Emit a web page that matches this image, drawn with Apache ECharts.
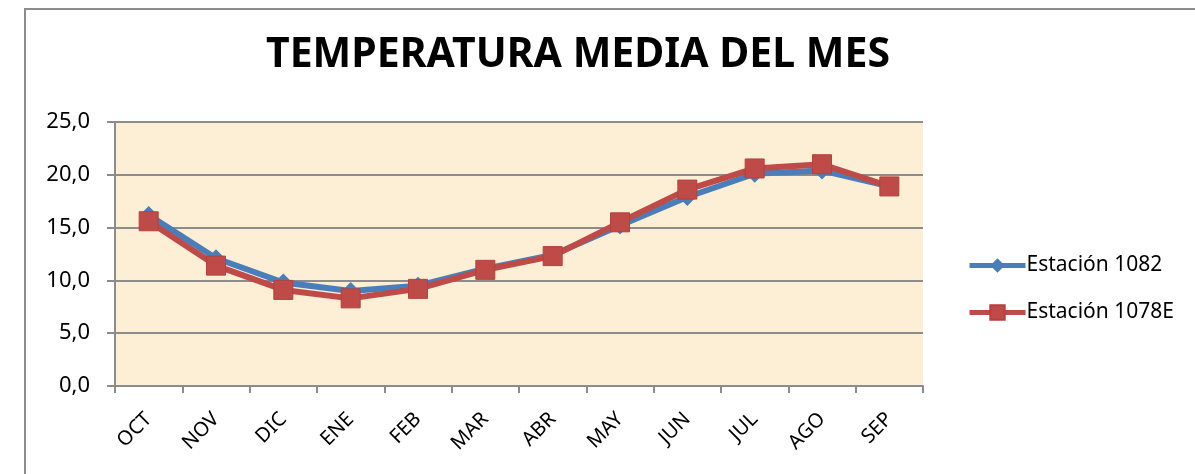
<!DOCTYPE html>
<html>
<head>
<meta charset="utf-8">
<script src="https://cdn.jsdelivr.net/npm/echarts@6/dist/echarts.min.js"></script>
<style>
  html, body { margin: 0; padding: 0; background: #fff; }
  #main { width: 1195px; height: 474px; }
</style>
</head>
<body>
<div id="main"></div>
<script>
var meses = ["OCT", "NOV", "DIC", "ENE", "FEB", "MAR", "ABR", "MAY", "JUN", "JUL", "AGO", "SEP"];
var est1082 = [16.2, 12.1, 9.8, 9.0, 9.5, 11.1, 12.4, 15.2, 17.9, 20.1, 20.4, 18.9];
var est1078E = [15.6, 11.4, 9.1, 8.3, 9.2, 11.0, 12.3, 15.5, 18.6, 20.6, 21.0, 18.9];
var yTicks = [0, 5, 10, 15, 20, 25];

var fuente = "Noto Sans";
var myChart = echarts.init(document.getElementById("main"));
myChart.setOption({
  animation: false,
  title: {
    text: "TEMPERATURA MEDIA DEL MES",
    left: 573,
    textAlign: "center",
    top: 30,
    textStyle: { fontFamily: fuente, fontWeight: "bold", fontSize: 41, color: "#000" }
  },
  graphic: [
    {
      type: "rect",
      shape: { x: 25, y: 9, width: 1300, height: 600 },
      style: { fill: "none", stroke: "#8c8c8c", lineWidth: 2 },
      silent: true
    }
  ],
  legend: {
    orient: "vertical",
    left: 962,
    top: 250,
    itemWidth: 56,
    itemHeight: 18,
    itemGap: 26,
    lineStyle: { width: 5 },
    textStyle: { fontFamily: fuente, fontSize: 21, color: "#000", padding: [0, 0, 0, -4] },
    data: ["Estación 1082", "Estación 1078E"]
  },
  grid: {
    left: 115,
    right: 272,
    top: 122,
    bottom: 88,
    show: true,
    backgroundColor: "#fcefd6",
    borderWidth: 0
  },
  xAxis: {
    type: "category",
    data: meses,
    boundaryGap: true,
    axisLine: { lineStyle: { color: "#8c8c8c", width: 2 } },
    axisTick: { show: true, length: 7, lineStyle: { color: "#8c8c8c", width: 2 } },
    axisLabel: { rotate: 45, margin: 30, fontFamily: fuente, fontSize: 20, color: "#000" }
  },
  yAxis: {
    type: "value",
    min: yTicks[0],
    max: yTicks[yTicks.length - 1],
    interval: 5,
    axisLine: { show: true, lineStyle: { color: "#8c8c8c", width: 2 } },
    axisTick: { show: true, length: 8, lineStyle: { color: "#8c8c8c", width: 2 } },
    splitLine: { lineStyle: { color: "#8c8c8c", width: 2 } },
    axisLabel: {
      margin: 25,
      fontFamily: fuente,
      fontSize: 22,
      color: "#000",
      formatter: function (v) { return v.toFixed(1).replace(".", ","); }
    }
  },
  series: [
    {
      name: "Estación 1082",
      type: "line",
      data: est1082,
      symbol: "diamond",
      symbolSize: 18,
      lineStyle: { color: "#4a7ebb", width: 6 },
      itemStyle: { color: "#4a7ebb" }
    },
    {
      name: "Estación 1078E",
      type: "line",
      data: est1078E,
      symbol: "rect",
      symbolSize: 19,
      lineStyle: { color: "#be4b48", width: 6 },
      itemStyle: { color: "#be4b48", borderColor: "#b5403d", borderWidth: 1 }
    }
  ]
});
</script>
</body>
</html>
